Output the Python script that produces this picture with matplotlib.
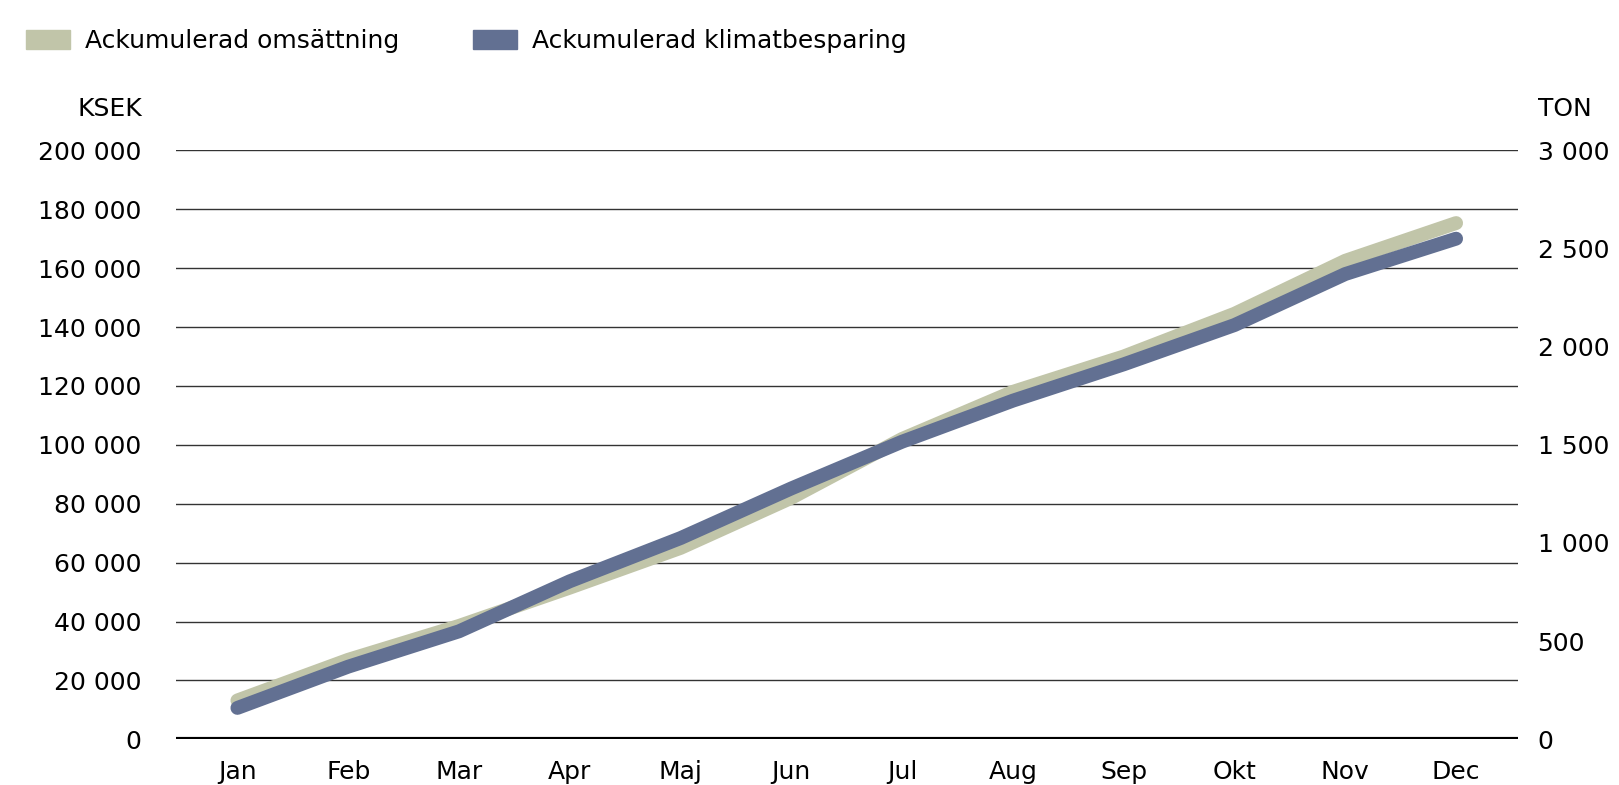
import matplotlib
matplotlib.use("Agg")
import matplotlib.pyplot as plt
from matplotlib.patches import Patch
from matplotlib.ticker import FuncFormatter

# data
months = ["Jan", "Feb", "Mar", "Apr", "Maj", "Jun", "Jul", "Aug", "Sep", "Okt", "Nov", "Dec"]
omsattning = [13200, 27000, 38500, 51500, 65000, 82000, 102000, 118000, 130000, 144500, 162500, 175300]  # KSEK
klimat = [160, 370, 550, 805, 1025, 1278, 1516, 1725, 1910, 2110, 2370, 2550]  # TON
left_ticks = list(range(0, 200001, 20000))
right_ticks = list(range(0, 3001, 500))

green = "#c1c5a9"
blue = "#627092"
fs = 18

def spaced(v, pos=None):
    return "{:,}".format(int(v)).replace(",", " ")

fig = plt.figure(figsize=(16.19, 7.85), dpi=100)
ax = fig.add_axes([0.109, 0.0582, 0.8287, 0.7503])
x = list(range(len(months)))

ax.plot(x, omsattning, color=green, lw=10, solid_capstyle="round", zorder=3)
ax.set_ylim(0, 200000)
ax.set_xlim(-0.55, 11.56)
ax.set_yticks(left_ticks)
ax.yaxis.set_major_formatter(FuncFormatter(spaced))
ax.set_xticks(x)
ax.set_xticklabels(months)
ax.grid(axis="y", color="#333333", lw=1)
ax.set_axisbelow(True)
ax.axhline(0, color="black", lw=3, zorder=2)
for s in ax.spines.values():
    s.set_visible(False)
ax.tick_params(axis="y", length=0, pad=25, labelsize=fs)
ax.tick_params(axis="x", length=0, pad=15, labelsize=fs)

ax2 = ax.twinx()
ax2.plot(x, klimat, color=blue, lw=10, solid_capstyle="round", zorder=3)
ax2.set_ylim(0, 3000)
ax2.set_yticks(right_ticks)
ax2.yaxis.set_major_formatter(FuncFormatter(spaced))
for s in ax2.spines.values():
    s.set_visible(False)
ax2.tick_params(axis="y", length=0, pad=14, labelsize=fs)
for lbl in ax2.get_yticklabels():
    lbl.set_horizontalalignment("left")

fig.text(142 / 1619, 1 - 109 / 785, "KSEK", ha="right", va="center", fontsize=fs)
fig.text(1538 / 1619, 1 - 109 / 785, "TON", ha="left", va="center", fontsize=fs)

handles = [Patch(color=green, label="Ackumulerad omsättning"),
           Patch(color=blue, label="Ackumulerad klimatbesparing")]
fig.legend(handles=handles, loc="upper left", bbox_to_anchor=(0.002, 0.992), ncol=2,
           frameon=False, fontsize=fs, handlelength=1.76, handleheight=0.8,
           handletextpad=0.6, columnspacing=2.95)

fig.savefig("out.png", dpi=100)
